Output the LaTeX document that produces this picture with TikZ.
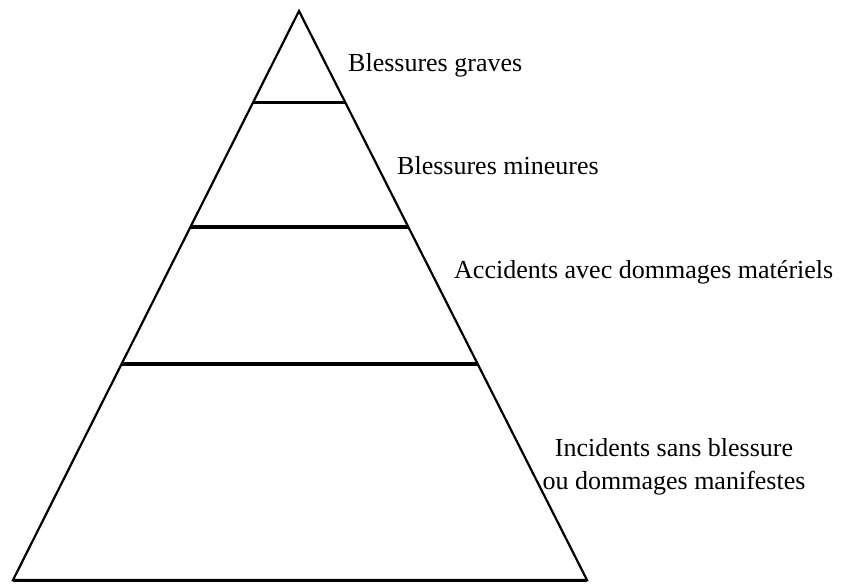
\documentclass[tikz,border=0pt]{standalone}
\usepackage{fontspec}
\setmainfont{Liberation Serif}
\usetikzlibrary{calc}

\begin{document}
\begin{tikzpicture}[
  x=1pt,y=-1pt,
  every node/.style={font=\fontsize{26}{33}\selectfont,inner sep=0pt},
  pyramid/.style={draw,line width=2.2pt,line join=miter},
  levelline/.style={line width=3.6pt},
  label/.style={anchor=base west}
]
\useasboundingbox (0,0) rectangle (848,584);
\coordinate (apex) at (299,11);
\coordinate (bl) at (13,580);
\coordinate (br) at (587,580);
\draw[pyramid] (apex) -- (br) -- (bl) -- cycle;
\draw[line width=3pt] (bl) -- (br);
% levels
\draw[levelline] ($(apex)!0.1608!(bl)$) coordinate (l1) -- ($(apex)!0.1608!(br)$) coordinate (r1);
\draw[levelline] ($(apex)!0.3796!(bl)$) coordinate (l2) -- ($(apex)!0.3796!(br)$) coordinate (r2);
\draw[levelline] ($(apex)!0.6204!(bl)$) coordinate (l3) -- ($(apex)!0.6204!(br)$) coordinate (r3);
% labels
\node[label] (graves) at (348,71) {Blessures graves};
\node[label] (mineures) at (397,174) {Blessures mineures};
\node[label] (materiels) at (454,278) {Accidents avec dommages matériels};
\node[anchor=base,align=center] (incidents) at (674,489) {Incidents sans blessure\\ou dommages manifestes};
\end{tikzpicture}
\end{document}
